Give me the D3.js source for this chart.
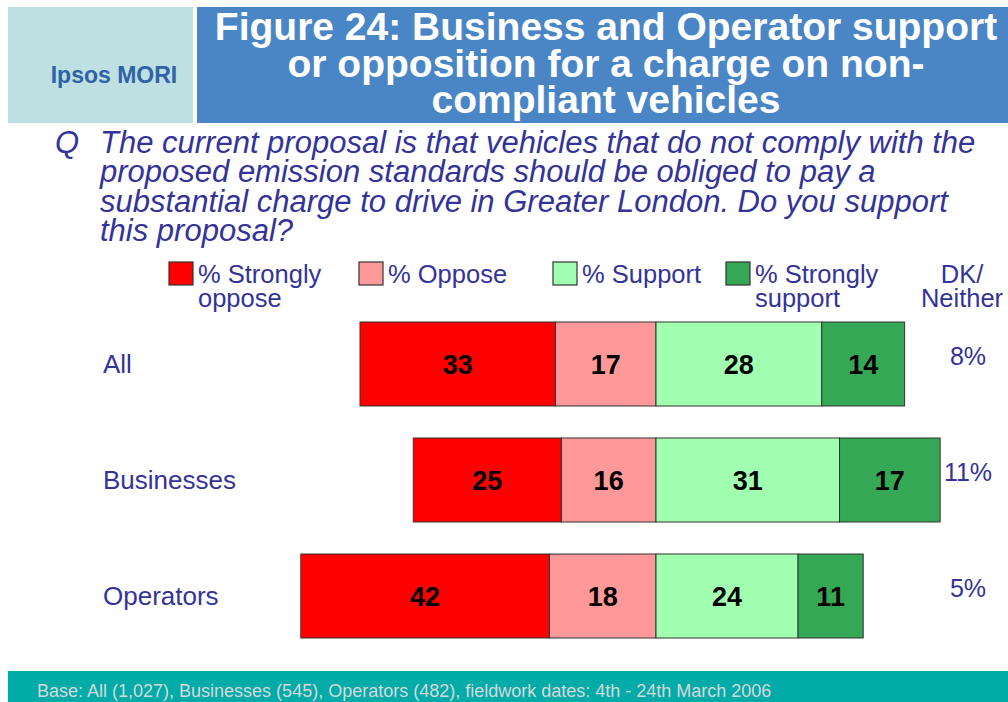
<!DOCTYPE html>
<html>
<head>
<meta charset="utf-8">
<script src="https://cdn.jsdelivr.net/npm/d3@7"></script>
<style>
  html, body { margin: 0; padding: 0; background: #fff; }
  svg { display: block; font-family: "Liberation Sans", Arial, sans-serif; }
</style>
</head>
<body>
<svg id="chart" width="1008" height="702"></svg>
<script>
// ---- data ----
const categories = ["All", "Businesses", "Operators"];
const stronglyOppose = [33, 25, 42];
const oppose = [17, 16, 18];
const support = [28, 31, 24];
const stronglySupport = [14, 17, 11];
const dkNeither = [8, 11, 5];
const seriesKeys = ["stronglyOppose", "oppose", "support", "stronglySupport"];
const legendLabels = [["% Strongly", "oppose"], ["% Oppose"], ["% Support"], ["% Strongly", "support"]];
const dkLabel = ["DK/", "Neither"];
const titleLines = ["Figure 24: Business and Operator support", "or opposition for a charge on non-", "compliant vehicles"];
const questionLines = [
  "The current proposal is that vehicles that do not comply with the",
  "proposed emission standards should be obliged to pay a",
  "substantial charge to drive in Greater London. Do you support",
  "this proposal?"
];
const footerText = "Base: All (1,027), Businesses (545), Operators (482), fieldwork dates: 4th - 24th March 2006";
const brand = "Ipsos MORI";

// ---- styles ----
const colors = {
  stronglyOppose: "#FF0000",
  oppose: "#FF9999",
  support: "#A0FFB0",
  stronglySupport: "#34A855"
};
const textColor = "#333399";

const svg = d3.select("#chart");

// ---- header ----
svg.append("rect").attr("x", 8).attr("y", 7).attr("width", 185).attr("height", 116).attr("fill", "#BFE0E2");
svg.append("rect").attr("x", 197).attr("y", 7).attr("width", 811).attr("height", 116).attr("fill", "#4A86C6");
svg.append("text").attr("x", 114).attr("y", 83).attr("text-anchor", "middle")
  .attr("font-size", 23).attr("font-weight", "bold").attr("fill", "#2F62A6").text(brand);
const title = svg.append("text").attr("x", 606).attr("y", 40)
  .attr("text-anchor", "middle").attr("font-size", 39).attr("font-weight", "bold").attr("fill", "#fff");
title.selectAll("tspan").data(titleLines).join("tspan")
  .attr("x", 606).attr("dy", (d, i) => i === 0 ? 0 : 36.5).text(d => d);

// ---- question ----
svg.append("text").attr("x", 55).attr("y", 153).attr("font-size", 31)
  .attr("font-style", "italic").attr("fill", textColor).text("Q");
const q = svg.append("text").attr("x", 100).attr("y", 153)
  .attr("font-size", 31).attr("font-style", "italic").attr("fill", textColor);
q.selectAll("tspan").data(questionLines).join("tspan")
  .attr("x", 100).attr("dy", (d, i) => i === 0 ? 0 : 29.3).text(d => d);

// ---- scales ----
const x = d3.scaleLinear().domain([-50, 50]).range([360, 952]);
const y = d3.scaleBand().domain(categories).range([322, 638]).paddingInner(0.276).paddingOuter(0);

// ---- stacked diverging bars ----
const rows = categories.map((c, i) => ({
  cat: c,
  oppose: -oppose[i],
  stronglyOppose: -stronglyOppose[i],
  support: support[i],
  stronglySupport: stronglySupport[i],
  raw: { stronglyOppose: stronglyOppose[i], oppose: oppose[i], support: support[i], stronglySupport: stronglySupport[i] }
}));
const stack = d3.stack()
  .keys(["oppose", "stronglyOppose", "support", "stronglySupport"])
  .offset(d3.stackOffsetDiverging);
const stacked = stack(rows);

const gBars = svg.append("g");
stacked.forEach(s => {
  const g = gBars.append("g");
  g.selectAll("rect").data(s).join("rect")
    .attr("x", d => x(Math.min(d[0], d[1])))
    .attr("y", d => y(d.data.cat))
    .attr("width", d => Math.abs(x(d[1]) - x(d[0])))
    .attr("height", y.bandwidth())
    .attr("fill", colors[s.key])
    .attr("stroke", "#333")
    .attr("stroke-width", 1);
  g.selectAll("text").data(s).join("text")
    .attr("x", d => (x(d[0]) + x(d[1])) / 2)
    .attr("y", d => y(d.data.cat) + y.bandwidth() / 2 + 10)
    .attr("text-anchor", "middle").attr("font-size", 27).attr("font-weight", "bold")
    .attr("fill", "#000")
    .text(d => d.data.raw[s.key]);
});

// ---- category labels ----
svg.append("g").selectAll("text").data(categories).join("text")
  .attr("x", 103).attr("y", d => y(d) + y.bandwidth() / 2 + 9)
  .attr("font-size", 26).attr("fill", textColor).text(d => d);

// ---- DK / Neither ----
svg.append("g").selectAll("text").data(dkNeither).join("text")
  .attr("x", 968).attr("y", (d, i) => y(categories[i]) + y.bandwidth() / 2 + 1)
  .attr("text-anchor", "middle").attr("font-size", 25).attr("fill", textColor)
  .text(d => d + "%");

// ---- legend ----
const legendX = [169, 359, 553, 726];
const lg = svg.append("g");
seriesKeys.forEach((k, i) => {
  lg.append("rect").attr("x", legendX[i]).attr("y", 262).attr("width", 24).attr("height", 23)
    .attr("fill", colors[k]).attr("stroke", "#333").attr("stroke-width", 1.2);
  const t = lg.append("text").attr("x", legendX[i] + 29).attr("y", 283)
    .attr("font-size", 25.5).attr("fill", textColor);
  t.selectAll("tspan").data(legendLabels[i]).join("tspan")
    .attr("x", legendX[i] + 29).attr("dy", (d, j) => j === 0 ? 0 : 24).text(d => d);
});
const dk = lg.append("text").attr("x", 962).attr("y", 283).attr("text-anchor", "middle")
  .attr("font-size", 25.5).attr("fill", textColor);
dk.selectAll("tspan").data(dkLabel).join("tspan")
  .attr("x", 962).attr("dy", (d, j) => j === 0 ? 0 : 24).text(d => d);

// ---- footer ----
svg.append("rect").attr("x", 8).attr("y", 671).attr("width", 1000).attr("height", 31).attr("fill", "#00ABA8");
svg.append("text").attr("x", 37).attr("y", 697).attr("font-size", 18).attr("fill", "#D8D8D8").text(footerText);
</script>
</body>
</html>
